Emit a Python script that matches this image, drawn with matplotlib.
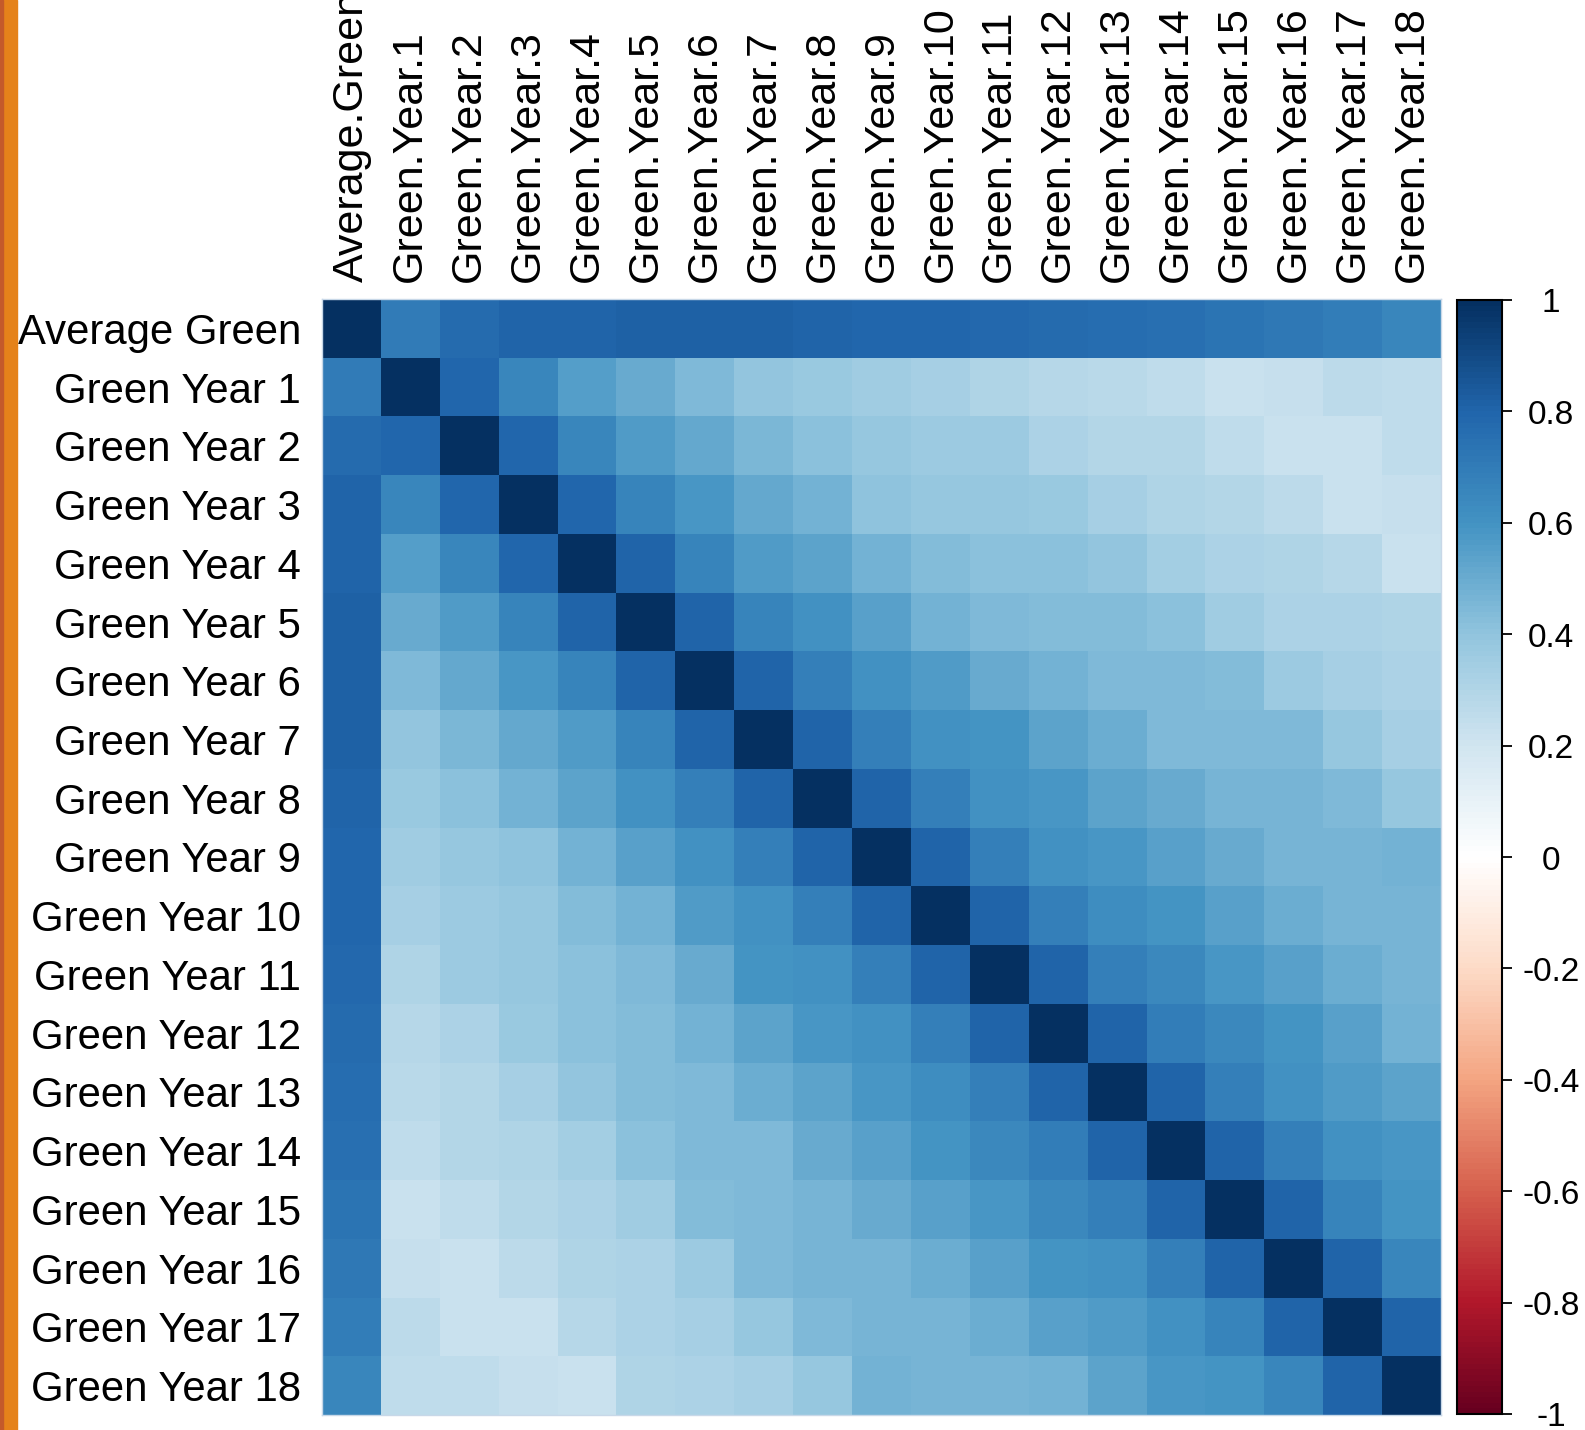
import numpy as np
import matplotlib
matplotlib.use("Agg")
import matplotlib.pyplot as plt
import matplotlib.transforms as mtransforms
from matplotlib.colors import LinearSegmentedColormap
from matplotlib.patches import Rectangle

plt.rcParams['font.family'] = ['Liberation Sans', 'DejaVu Sans']

row_labels = ["Average Green"] + ["Green Year %d" % i for i in range(1, 19)]
col_labels = ["Average.Green"] + ["Green.Year.%d" % i for i in range(1, 19)]

# upper triangle of the correlation matrix, row by row (diagonal left out)
upper = [
    [0.70, 0.77, 0.80, 0.80, 0.81, 0.81, 0.81, 0.80, 0.79, 0.79, 0.78, 0.77, 0.76, 0.75, 0.73, 0.71, 0.69, 0.65],
    [0.79, 0.65, 0.55, 0.50, 0.44, 0.39, 0.37, 0.35, 0.33, 0.30, 0.28, 0.27, 0.25, 0.22, 0.23, 0.26, 0.25],
    [0.79, 0.65, 0.57, 0.51, 0.45, 0.41, 0.38, 0.36, 0.36, 0.31, 0.29, 0.29, 0.25, 0.22, 0.22, 0.25],
    [0.79, 0.66, 0.58, 0.51, 0.47, 0.40, 0.38, 0.38, 0.37, 0.33, 0.30, 0.29, 0.26, 0.22, 0.23],
    [0.80, 0.66, 0.57, 0.53, 0.47, 0.43, 0.41, 0.41, 0.39, 0.34, 0.31, 0.30, 0.28, 0.22],
    [0.80, 0.66, 0.60, 0.54, 0.47, 0.44, 0.43, 0.43, 0.41, 0.35, 0.31, 0.31, 0.30],
    [0.80, 0.68, 0.60, 0.56, 0.50, 0.47, 0.44, 0.44, 0.43, 0.36, 0.33, 0.31],
    [0.80, 0.68, 0.60, 0.59, 0.53, 0.49, 0.44, 0.44, 0.44, 0.38, 0.33],
    [0.80, 0.68, 0.60, 0.58, 0.53, 0.50, 0.46, 0.46, 0.44, 0.38],
    [0.80, 0.68, 0.60, 0.58, 0.54, 0.50, 0.46, 0.46, 0.47],
    [0.80, 0.68, 0.62, 0.59, 0.54, 0.49, 0.46, 0.46],
    [0.80, 0.68, 0.64, 0.58, 0.54, 0.49, 0.46],
    [0.80, 0.69, 0.64, 0.59, 0.54, 0.47],
    [0.80, 0.68, 0.60, 0.57, 0.53],
    [0.80, 0.68, 0.60, 0.58],
    [0.80, 0.66, 0.59],
    [0.80, 0.65],
    [0.80],
]

cb_ticks = [-1, -0.8, -0.6, -0.4, -0.2, 0, 0.2, 0.4, 0.6, 0.8, 1]

n = len(row_labels)
corr = np.eye(n)
for i, vals in enumerate(upper):
    corr[i, i + 1:] = vals
    corr[i + 1:, i] = vals

rdbu = LinearSegmentedColormap.from_list("corr_rdbu", [
    "#67001F", "#B2182B", "#D6604D", "#F4A582", "#FDDBC7", "#FFFFFF",
    "#D1E5F0", "#92C5DE", "#4393C3", "#2166AC", "#053061"], N=200)

W, H = 1585, 1430
fig = plt.figure(figsize=(W / 100, H / 100), dpi=100)

# orange strip down the left edge
fig.patches.append(Rectangle((0, 0), 17 / W, 1, transform=fig.transFigure,
                             color="#E5821A", zorder=0))
fig.patches.append(Rectangle((0, 0), 3 / W, 1, transform=fig.transFigure,
                             color="#C45A2A", zorder=1))

x0, x1, y0, y1 = 322, 1441, 299, 1415
ax = fig.add_axes([x0 / W, 1 - y1 / H, (x1 - x0) / W, (y1 - y0) / H])
mesh = ax.pcolormesh(np.arange(n + 1), np.arange(n + 1), corr, cmap=rdbu,
                     vmin=-1, vmax=1, linewidth=0)
ax.set_xlim(0, n)
ax.set_ylim(n, 0)
ax.xaxis.tick_top()
ax.set_xticks(np.arange(n) + 0.5)
ax.set_xticklabels(col_labels, rotation=90, fontsize=31)
ax.set_yticks(np.arange(n) + 0.5)
ax.set_yticklabels(row_labels, fontsize=30.2, va="center_baseline")
ax.tick_params(axis="x", length=0, pad=12.5)
ax.tick_params(axis="y", length=0, pad=15)
for s in ax.spines.values():
    s.set_color("#C8D8E8")
    s.set_linewidth(1)

cx0, cx1, cy0, cy1 = 1457, 1502, 300, 1414
cax = fig.add_axes([cx0 / W, 1 - cy1 / H, (cx1 - cx0) / W, (cy1 - cy0) / H])
cb = fig.colorbar(mesh, cax=cax, ticks=cb_ticks)
cb.outline.set_edgecolor("black")
cb.outline.set_linewidth(1.5)
cax.tick_params(axis="y", length=7.2, width=1.3, color="black", labelright=False)
trans = mtransforms.blended_transform_factory(cax.transAxes, cax.transData)
shift = mtransforms.ScaledTranslation(0, -4 / 100, fig.dpi_scale_trans)
for t in cb_ticks:
    cax.text((1551 - cx0) / (cx1 - cx0), t, "%g" % t, transform=trans + shift,
             ha="center", va="center", fontsize=24, clip_on=False)

fig.savefig("out.png", dpi=100)
